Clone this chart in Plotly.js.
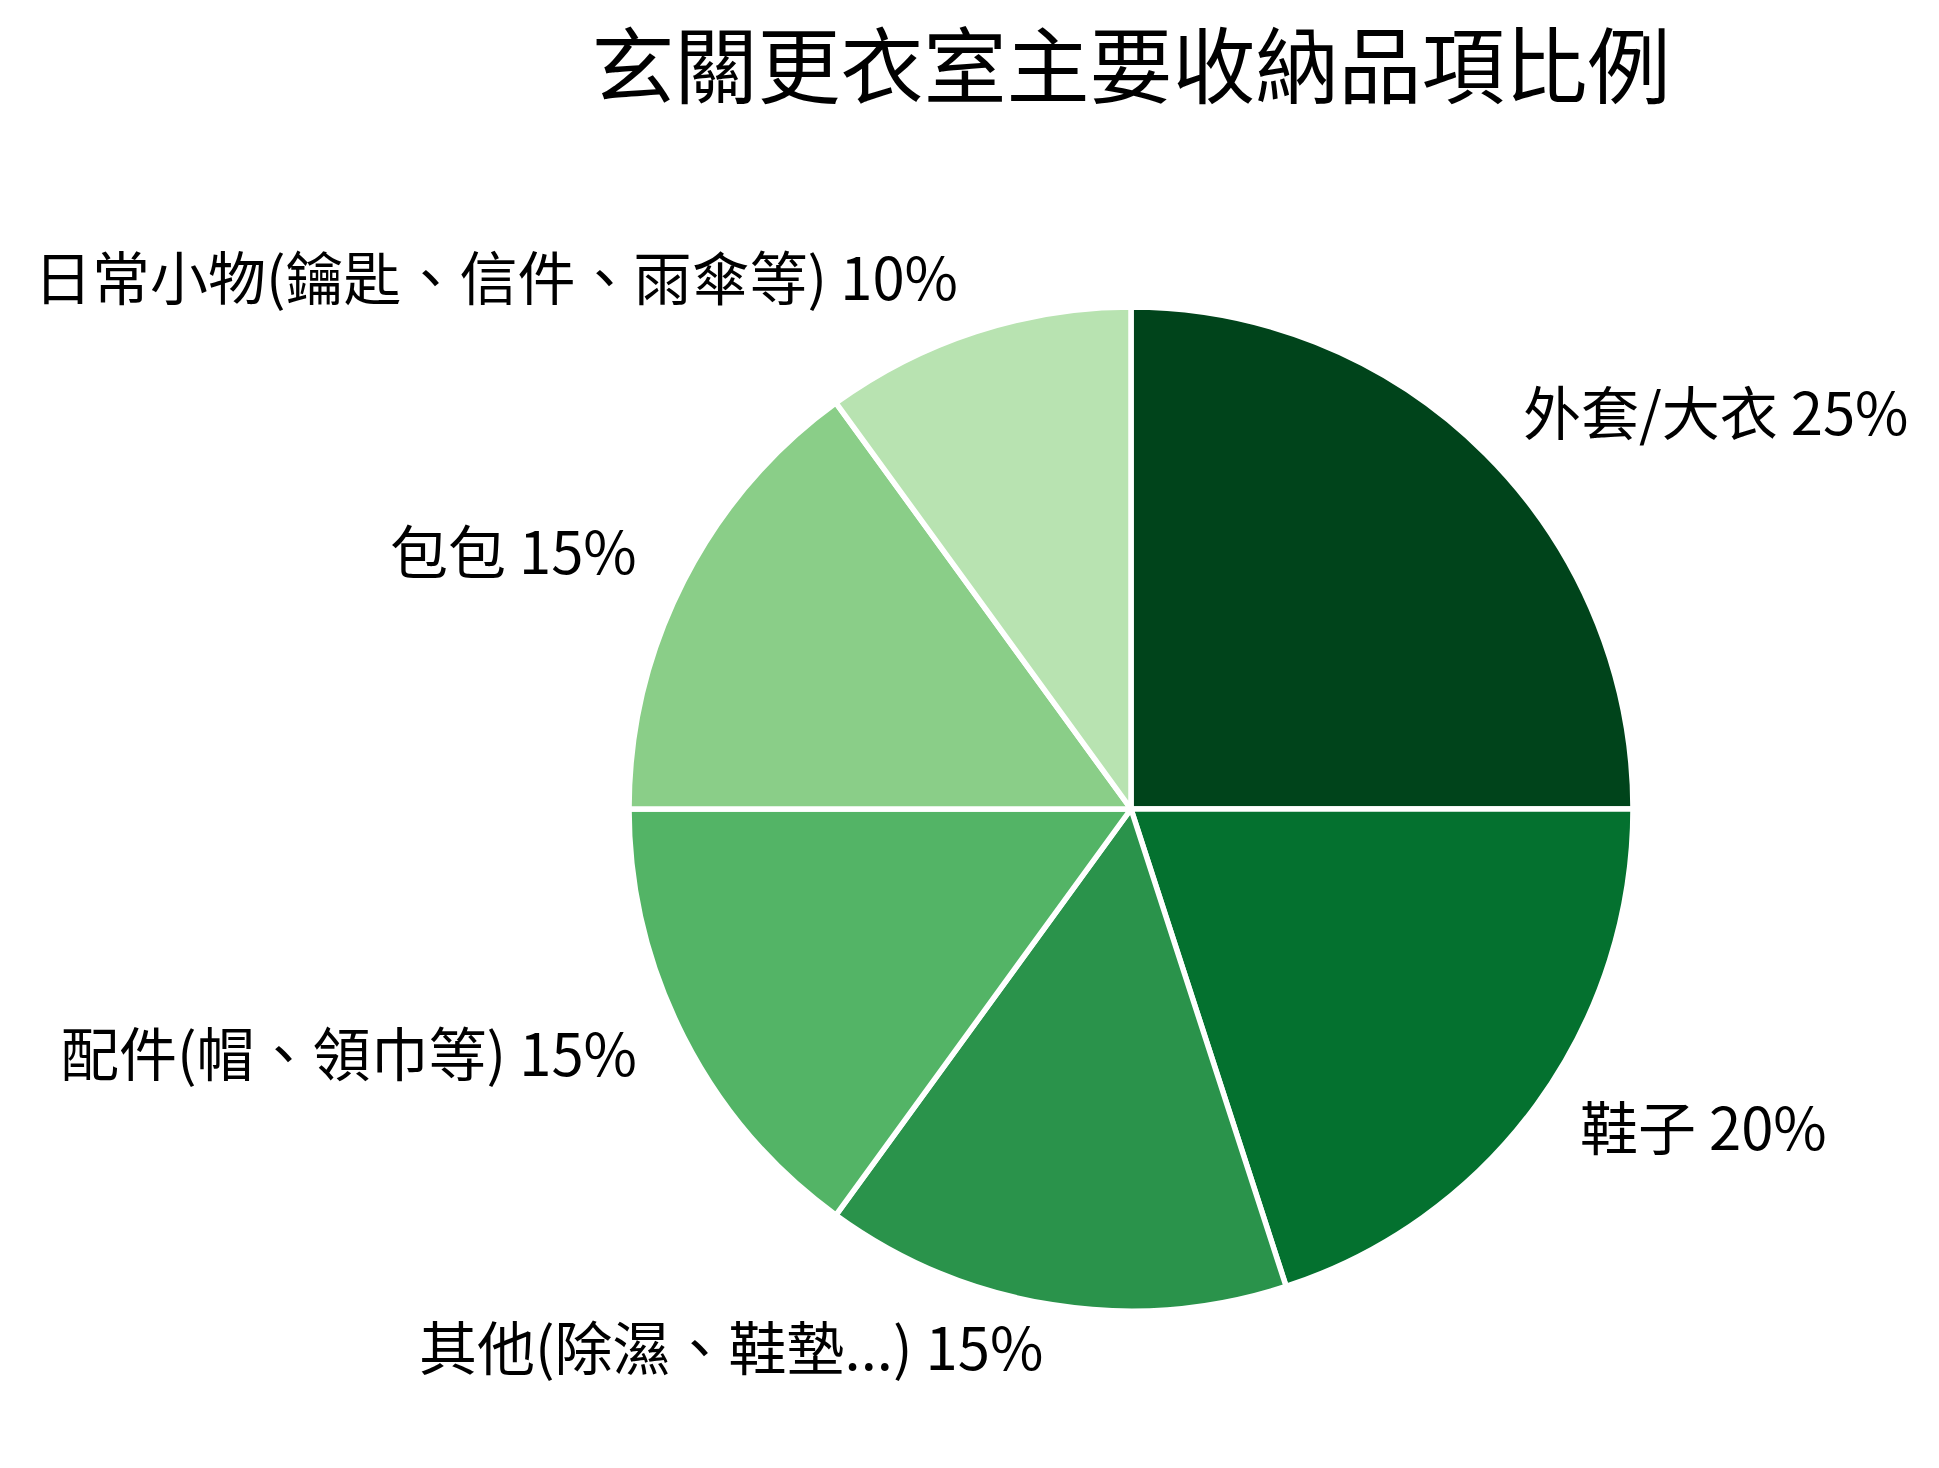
<!DOCTYPE html>
<html>
<head>
<meta charset="utf-8">
<script src="https://cdn.plot.ly/plotly-3.0.1.min.js"></script>
<style>html,body{margin:0;padding:0;background:#fff;}#chart{width:1939px;height:1468px;}</style>
</head>
<body>
<div id="chart"></div>
<script>
const chartTitle = "玄關更衣室主要收納品項比例";
const categories = ["外套/大衣", "鞋子", "其他(除濕、鞋墊...)", "配件(帽、領巾等)", "包包", "日常小物(鑰匙、信件、雨傘等)"];
const values = [25, 20, 15, 15, 15, 10];
const sliceColors = ["#00441b", "#04712f", "#2a934b", "#53b466", "#8ace88", "#b8e3b1"];

const W = 1939, H = 1468;
const cx = 1131, cy = 809, r = 502;
const labelDistance = 1.1;

const trace = {
  type: "pie",
  labels: categories,
  values: values,
  sort: false,
  direction: "clockwise",
  rotation: 0,
  marker: {colors: sliceColors, line: {color: "#ffffff", width: 5.5}},
  textinfo: "none",
  showlegend: false,
  hoverinfo: "none",
  domain: {
    x: [(cx - r) / W, (cx + r) / W],
    y: [(H - cy - r) / H, (H - cy + r) / H]
  }
};

// slice labels placed outside the pie at the middle angle of each slice
const total = values.reduce((a, b) => a + b, 0);
const annotations = [];
let cum = 0;
values.forEach((v, i) => {
  const mid = (cum + v / 2) / total * 2 * Math.PI; // clockwise from top
  cum += v;
  const dx = labelDistance * r * Math.sin(mid);
  const dy = labelDistance * r * Math.cos(mid);
  annotations.push({
    text: categories[i] + " " + Math.round(v / total * 100) + "%",
    xref: "paper", yref: "paper",
    x: (cx + dx) / W,
    y: (H - cy + dy) / H,
    xanchor: dx > 0 ? "left" : "right",
    yanchor: "middle",
    yshift: 9,
    showarrow: false,
    font: {family: "Noto Sans CJK TC", size: 58, color: "#000000"}
  });
});

const layout = {
  width: W, height: H,
  margin: {l: 0, r: 0, t: 0, b: 0},
  paper_bgcolor: "#ffffff",
  showlegend: false,
  font: {family: "Noto Sans CJK TC", color: "#000000"},
  title: {
    text: chartTitle,
    font: {family: "Noto Sans CJK TC", size: 83, color: "#000000"},
    x: cx / W, xanchor: "center", xref: "paper",
    y: 1 - 68 / H, yanchor: "middle", yref: "container"
  },
  annotations: annotations
};

Plotly.newPlot("chart", [trace], layout, {displayModeBar: false, staticPlot: true});
</script>
</body>
</html>
